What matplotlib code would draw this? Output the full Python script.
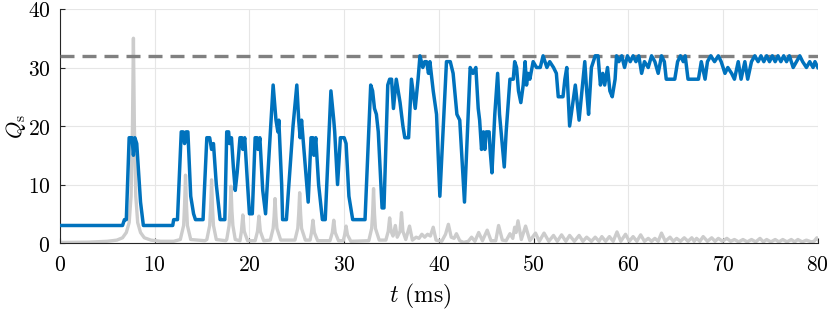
import numpy as np
import matplotlib
matplotlib.use("Agg")
import matplotlib.pyplot as plt

plt.rcParams['mathtext.fontset'] = 'cm'
plt.rcParams['font.family'] = 'serif'

# ---------------------------------------------------------------
# data (t in ms)
# ---------------------------------------------------------------

# blue trace: Q_s
blue_t = [0, 6.6, 6.8, 7.0, 7.3, 7.6, 7.75, 7.9, 8.1, 8.3, 8.5, 8.8,
          11.9, 12.0, 12.4, 12.8, 13.0, 13.15, 13.3, 13.5, 13.8, 14.1, 14.3, 15.1,
          15.5, 15.8, 16.0, 16.2, 16.5, 16.9, 17.4, 17.6, 17.8, 17.9, 18.1, 18.3,
          18.5, 18.7, 19.0, 19.2, 19.3, 19.5, 19.8, 20.0, 20.3, 20.6, 20.8, 20.9,
          21.1, 21.4, 21.7, 22.1, 22.5, 22.8, 23.0, 23.1, 23.4, 23.5, 23.9, 24.6,
          25.0, 25.2, 25.35, 25.5, 26.2, 26.5, 26.7, 26.8, 27.0, 27.3, 27.7, 28.0,
          28.6, 28.9, 29.0, 29.3, 29.6, 30.0, 30.2, 30.5, 30.9, 32.2, 32.8, 33.0,
          33.2, 33.4, 33.6, 34.0, 34.2, 34.6, 34.8, 35.0, 35.2, 35.5, 35.9, 36.2,
          36.4, 36.8, 37.1, 37.5, 37.8, 38.0, 38.3, 38.5, 38.7, 38.9, 39.05, 39.4,
          39.75, 40.1, 40.8, 41.2, 41.5, 41.9, 42.2, 42.7, 43.3, 43.6, 43.9, 44.15,
          44.3, 44.5, 44.7, 44.85, 45.0, 45.3, 45.4, 45.6, 45.9, 46.2, 46.4, 46.9,
          47.1, 47.5, 47.85, 48.0, 48.2, 48.4, 48.65, 48.9, 49.1, 49.25, 49.4, 49.6,
          49.95, 50.3, 50.7, 51.0, 51.4, 51.7, 52.1, 52.4, 52.6, 53.1, 53.3, 53.5,
          53.8, 54.4, 54.8, 55.1, 55.4, 55.6, 55.8, 56.1, 56.5, 56.8, 57.05, 57.3,
          57.5, 57.8, 58.05, 58.3, 58.6, 58.75, 59.0, 59.3, 59.6, 59.9, 60.2, 60.5,
          60.8, 61.1, 61.4, 61.7, 62.1, 62.45, 62.8, 63.15, 63.5, 63.8, 64.0, 64.9,
          65.2, 65.5, 65.8, 66.0, 66.3, 67.0, 67.4, 67.7, 68.1, 68.35, 68.7, 69.1,
          69.5, 69.8, 70.2, 70.5, 70.9, 71.2, 71.6, 71.9, 72.3, 72.6, 73.0, 73.35,
          73.7, 74.0, 74.3, 74.6, 74.9, 75.2, 75.5, 75.8, 76.1, 76.4, 76.7, 77.0,
          77.4, 77.75, 78.1, 78.4, 78.8, 79.15, 79.5, 79.7, 80.0]
blue_q = [3, 3, 4, 4, 18, 18, 15, 18, 17, 12, 7, 3,
          3, 4, 4, 19, 19, 17, 19, 19, 8, 5, 4, 4,
          18, 18, 16, 17, 10, 4, 4, 19, 19, 17, 18, 13,
          9, 12, 18, 18, 16, 18, 10, 5, 5, 18, 18, 16,
          18, 9, 5, 16, 27, 21, 19, 21, 10, 4, 4, 20,
          27, 21, 18, 21, 7, 18, 18, 15, 18, 10, 4, 4,
          26, 21, 19, 10, 18, 18, 17, 8, 4, 4, 27, 26,
          23, 22, 19, 6, 6, 27, 28, 28, 23, 28, 24, 20,
          18, 18, 28, 23, 28, 32, 30, 31, 31, 29, 31, 26,
          22, 8, 31, 31, 29, 22, 21, 7, 30, 29, 30, 23,
          21, 16, 19, 16, 19, 19, 16, 12, 22, 29, 22, 13,
          19, 28, 28, 31, 30, 26, 24, 27, 31, 27, 29, 28,
          31, 30, 30, 32, 30, 31, 30, 29, 25, 25, 28, 30,
          20, 27, 21, 26, 31, 26, 22, 30, 32, 32, 27, 29,
          27, 30, 26, 25, 28, 32, 31, 32, 30, 32, 31, 32,
          31, 32, 29, 31, 30, 32, 31, 29, 32, 31, 28, 28,
          31, 32, 31, 32, 28, 28, 28, 31, 28, 31, 32, 31,
          32, 31, 29, 30, 29, 28, 31, 28, 31, 28, 31, 32,
          31, 32, 31, 32, 31, 32, 31, 32, 31, 32, 31, 32,
          30, 31, 32, 31, 30, 31, 30, 31, 30]

# light grey trace
grey_t = [0, 3, 5, 6, 6.6, 7.0, 7.3, 7.5, 7.65, 7.75, 7.85, 8.0, 8.2, 8.5, 8.9, 9.6, 10.6, 12.0,
          12.7, 13.05, 13.15, 13.25, 13.35, 13.45, 13.8, 15.3, 15.5, 15.8, 15.9, 16.0, 16.1, 16.2, 16.5, 17.5,
          17.6, 17.85, 17.95, 18.05, 18.15, 18.25, 18.5, 19.0, 19.15, 19.3, 19.45, 19.8, 20.6,
          20.85, 21.0, 21.15, 21.5, 22.2, 22.5, 22.6, 22.7, 22.8, 22.9, 23.3, 24.8,
          25.1, 25.2, 25.3, 25.4, 25.5, 25.9, 26.4, 26.55, 26.7, 26.85, 27.2, 28.5,
          28.75, 28.9, 29.05, 29.4, 29.9, 30.05, 30.2, 30.35, 30.7, 32.6,
          32.9, 33.0, 33.1, 33.2, 33.3, 33.7, 34.4,
          34.65, 34.8, 34.95, 35.15, 35.4, 35.6, 35.9, 36.05, 36.2, 36.5, 36.9, 37.2,
          37.6, 37.9, 38.2, 38.5, 38.8, 39.1, 39.4, 39.7, 40.3, 40.7, 41.0, 41.3,
          41.6, 41.85, 42.2, 42.6, 43.1, 43.45, 43.8, 44.2, 44.6, 45.1, 45.5, 46.0,
          46.3, 46.7, 47.1, 47.5, 47.8, 48.0, 48.15, 48.35, 48.7, 49.15, 49.6, 50.2,
          50.6, 51.1, 51.6, 52.1, 52.5, 52.95, 53.4, 53.8, 54.3, 54.8, 55.2, 55.6,
          56.1, 56.5, 56.9, 57.2, 57.6, 58.0, 58.4, 58.8, 59.2, 59.7, 60.1, 60.5,
          60.9, 61.3, 61.7, 62.1, 62.45, 62.8, 63.15, 63.5, 63.9, 64.4, 64.75, 65.1,
          65.5, 65.9, 66.3, 66.7, 66.95, 67.2, 67.55, 67.9, 68.35, 68.8, 69.15, 69.5,
          69.95, 70.4, 70.8, 71.2, 71.65, 72.1, 72.55, 73.0, 73.45, 73.9, 74.25, 74.6,
          75.05, 75.5, 75.9, 76.3, 76.75, 77.2, 77.55, 77.9, 78.35, 78.8, 79.3, 79.6, 79.9, 80]
grey_q = [0.1, 0.15, 0.3, 0.5, 0.9, 1.8, 3.5, 8, 20, 35, 20, 8, 3.5, 1.8, 0.9, 0.5, 0.3, 0.3,
          0.6, 3, 6.5, 11.6, 6.5, 3, 0.6, 0.4, 0.6, 3, 6, 10.8, 6, 3, 0.6, 0.4,
          0.6, 3, 5.5, 9.7, 5.5, 3, 0.6, 0.4, 2, 4.8, 2, 0.4, 0.4,
          2, 4.6, 2, 0.4, 0.5, 2.5, 4.5, 7.6, 4.5, 2.5, 0.5, 0.5,
          2.5, 5, 8.6, 5, 2.5, 0.5, 0.5, 1.8, 3.9, 1.8, 0.4, 0.4,
          1.8, 3.9, 1.8, 0.4, 0.4, 1.4, 2.9, 1.4, 0.3, 0.4,
          2.5, 5, 9.3, 5, 2.5, 0.5, 0.5,
          2, 4.3, 2, 1.2, 3.0, 1, 2, 5.2, 2, 0.6, 2.9, 0.5,
          1.0, 0.8, 1.5, 1.0, 1.5, 1.2, 2.7, 0.5, 0.3, 1.5, 3.2, 1.0,
          0.8, 1.6, 0.4, 0.1, 0.3, 1.0, 0.3, 1.8, 0.4, 2.2, 0.4, 0.4,
          3.0, 0.5, 0.4, 1.6, 0.8, 2.7, 1.8, 3.8, 0.6, 2.9, 0.4, 1.7,
          0.3, 1.7, 0.3, 1.3, 0.3, 1.4, 0.3, 1.3, 0.3, 1.3, 0.3, 1.0,
          0.3, 1.0, 0.3, 1.1, 0.3, 1.1, 0.3, 1.9, 0.3, 1.5, 0.3, 1.1,
          0.3, 1.4, 0.3, 0.8, 0.3, 0.8, 0.3, 1.7, 0.3, 1.0, 0.3, 0.8,
          0.3, 0.9, 0.3, 0.9, 0.3, 0.8, 0.3, 1.1, 0.3, 0.9, 0.3, 0.8,
          0.3, 0.8, 0.3, 0.6, 0.2, 0.6, 0.2, 0.6, 0.2, 0.8, 0.2, 0.6,
          0.2, 0.6, 0.2, 0.6, 0.2, 0.6, 0.2, 0.6, 0.2, 0.5, 0.2, 0.3, 0.9, 0.6]

q_max = 32
xticks = [0, 10, 20, 30, 40, 50, 60, 70, 80]
yticks = [0, 10, 20, 30, 40]

# ---------------------------------------------------------------
# plot
# ---------------------------------------------------------------
fig = plt.figure(figsize=(8.3, 3.1), dpi=100)
ax = fig.add_axes([0.0723, 0.216, 0.913, 0.755])

ax.plot(grey_t, grey_q, color="#cccccc", lw=2.4, zorder=2)
ax.axhline(q_max, color="#808080", lw=2.4, ls=(0, (4.2, 2.4)), zorder=3)
ax.plot(blue_t, blue_q, color="#0072BD", lw=2.5, zorder=4)

ax.set_xlim(0, 80)
ax.set_ylim(0, 40)
ax.set_xticks(xticks)
ax.set_yticks(yticks)
ax.set_xticklabels([f"${v}$" for v in xticks])
ax.set_yticklabels([f"${v}$" for v in yticks])
ax.tick_params(direction="in", length=3.5, width=0.8, colors="#262626",
               labelsize=15.5, labelcolor="black")
ax.tick_params(axis="x", pad=8)
ax.tick_params(axis="y", pad=7)
ax.tick_params(top=False, right=False)

ax.grid(True, color="#e6e6e6", lw=0.8, zorder=0)
ax.set_axisbelow(True)
for side in ["top", "right"]:
    ax.spines[side].set_visible(False)
for side in ["left", "bottom"]:
    ax.spines[side].set_color("#262626")
    ax.spines[side].set_linewidth(0.8)

ax.set_xlabel(r"$t\ (\mathrm{ms})$", fontsize=17)
ax.set_ylabel(r"$Q_{\mathrm{s}}$", fontsize=16)
ax.xaxis.set_label_coords(0.475, -0.165)
ax.yaxis.set_label_coords(-0.042, 0.5)

fig.savefig("out.png", dpi=100)
